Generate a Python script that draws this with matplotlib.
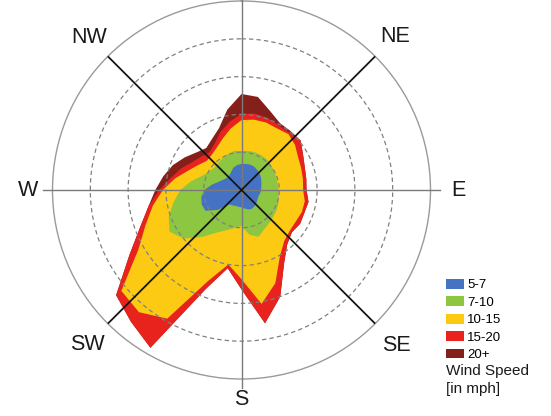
import numpy as np
import matplotlib
matplotlib.use("Agg")
import matplotlib.pyplot as plt
from matplotlib.patches import Patch

plt.rcParams['font.family'] = ['Liberation Sans', 'DejaVu Sans']

# direzioni ogni 10 gradi (0 = N, senso orario)
directions = np.arange(0, 360, 10)

# raggio cumulativo per classe di velocita' (unita' = un cerchio della griglia)
r_5_7 = [0.69, 0.70, 0.71, 0.70, 0.67, 0.64, 0.60, 0.56, 0.53, 0.52, 0.50, 0.48,
         0.49, 0.52, 0.55, 0.57, 0.55, 0.50, 0.46, 0.45, 0.45, 0.47, 0.50, 0.82,
         1.10, 1.12, 1.08, 0.98, 0.80, 0.64, 0.55, 0.50, 0.50, 0.55, 0.63, 0.67]
r_7_10 = [1.03, 1.05, 1.06, 1.06, 1.05, 1.02, 1.00, 0.98, 0.97, 0.98, 1.00, 1.04,
          1.07, 1.10, 1.14, 1.20, 1.32, 1.20, 0.95, 1.02, 1.13, 1.30, 1.62, 2.00,
          2.20, 2.05, 1.82, 1.62, 1.35, 1.10, 0.98, 0.93, 0.95, 0.98, 1.02, 1.05]
r_10_15 = [1.85, 1.89, 1.90, 1.88, 1.93, 1.85, 1.73, 1.68, 1.65, 1.63, 1.70, 1.70,
           1.66, 1.67, 1.76, 2.03, 2.62, 3.06, 2.36, 2.00, 2.55, 3.93, 4.22, 4.15,
           3.15, 2.70, 2.38, 2.08, 1.78, 1.50, 1.32, 1.20, 1.22, 1.30, 1.45, 1.65]
r_15_20 = [2.02, 2.05, 2.03, 1.97, 1.98, 2.04, 1.88, 1.78, 1.74, 1.72, 1.80, 1.77,
           1.79, 1.74, 1.88, 2.25, 3.00, 3.58, 2.63, 2.10, 2.80, 4.82, 4.55, 4.33,
           3.42, 2.85, 2.50, 2.18, 1.89, 1.69, 1.49, 1.38, 1.31, 1.42, 1.63, 1.83]
r_20_plus = [2.54, 2.50, 2.22, 2.04, 2.03, 2.04, 1.88, 1.78, 1.74, 1.72, 1.80, 1.77,
             1.79, 1.74, 1.88, 2.25, 3.00, 3.58, 2.63, 2.10, 2.80, 4.82, 4.55, 4.33,
             3.42, 2.85, 2.50, 2.28, 2.10, 1.93, 1.73, 1.55, 1.45, 1.56, 1.74, 2.16]

speed_labels = ['5-7', '7-10', '10-15', '15-20', '20+']
speed_colors = ['#4672c4', '#8dc641', '#fcca12', '#e8231d', '#842019']
# la N e' fuori dall'immagine nell'originale
compass = {'NE': 45, 'E': 90, 'SE': 135, 'S': 180, 'SW': 225, 'W': 270, 'NW': 315}
label_r = {'NE': 5.75, 'E': 5.74, 'SE': 5.8, 'S': 5.55, 'SW': 5.78, 'W': 5.66, 'NW': 5.7}

fig = plt.figure(figsize=(5.51, 4.16), dpi=100)
ax = fig.add_axes([52.5 / 551, 1 - 379 / 416, 378 / 551, 378 / 416], projection='polar')
ax.set_theta_zero_location('N')
ax.set_theta_direction(-1)
ax.set_ylim(0, 5)
ax.grid(False)
ax.set_xticks([])
ax.set_yticks([])
ax.spines['polar'].set_color('#9a9a9a')
ax.spines['polar'].set_linewidth(1.0)

theta = np.deg2rad(np.append(directions, directions[0]))
layers = [r_20_plus, r_15_20, r_10_15, r_7_10, r_5_7]
for r, c in zip(layers, speed_colors[::-1]):
    ax.fill(theta, np.append(r, r[0]), color=c, lw=0, zorder=2)

# cerchi tratteggiati
circ = np.linspace(0, 2 * np.pi, 361)
for k in [1, 2, 3, 4]:
    ax.plot(circ, [k] * len(circ), color='#808080', lw=0.9, ls=(0, (3.5, 2.5)), zorder=3)

# linee dei settori
for ang in [0, 90, 180, 270]:
    ax.plot([np.deg2rad(ang)] * 2, [0, 5.25], color='#7a7a7a', lw=1.0, zorder=4, clip_on=False)
for ang in [45, 135, 225, 315]:
    ax.plot([np.deg2rad(ang)] * 2, [0, 5], color='#151515', lw=1.3, zorder=4)

for name, ang in compass.items():
    ax.text(np.deg2rad(ang), label_r[name], name, ha='center', va='center',
            fontsize=15.5, color='#1a1a1a', clip_on=False)

handles = [Patch(facecolor=c, edgecolor='none') for c in speed_colors]
fig.legend(handles, speed_labels, loc='upper left', bbox_to_anchor=(446 / 551, 1 - 279 / 416),
           frameon=False, fontsize=9.5, handlelength=1.35, handleheight=0.75,
           handletextpad=0.25, labelspacing=0.38, borderpad=0, borderaxespad=0)
fig.text(446 / 551, 1 - 371 / 416, 'Wind Speed', fontsize=11, va='center', color='#1a1a1a')
fig.text(446 / 551, 1 - 389 / 416, '[in mph]', fontsize=11, va='center', color='#1a1a1a')

fig.savefig('out.png', dpi=100)
